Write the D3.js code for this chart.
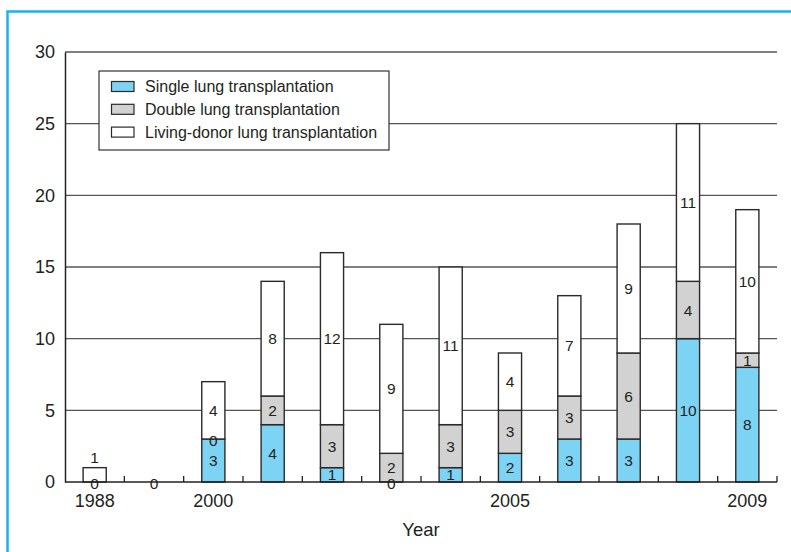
<!DOCTYPE html>
<html><head><meta charset="utf-8">
<script src="https://cdn.jsdelivr.net/npm/d3@7"></script>
<style>body{margin:0;background:#fff;} text{font-family:"Liberation Sans",Arial,Helvetica,sans-serif;fill:#231f20;}</style>
</head><body>
<svg id="chart" width="791" height="552"></svg>
<script>
const categories = ["1988","1989-1999","2000","2001","2002","2003","2004","2005","2006","2007","2008","2009"];
const single = [0,0,3,4,1,0,1,2,3,3,10,8];
const double = [0,0,0,2,3,2,3,3,3,6,4,1];
const living = [1,0,4,8,12,9,11,4,7,9,11,10];
const seriesNames = ["Single lung transplantation","Double lung transplantation","Living-donor lung transplantation"];
const tickLabels = ["1988","2000","2005","2009"];
const yTicks = [0,5,10,15,20,25,30];

const colors = ["#7dd3f4","#d2d2d2","#ffffff"];
const svg = d3.select("#chart");
const W=791,H=552;
const m={left:65,right:777,top:52,bottom:482};

// outer frame
svg.append("rect").attr("x",7.5).attr("y",11.5).attr("width",W+20).attr("height",H+20)
  .attr("fill","none").attr("stroke","#1ab2ea").attr("stroke-width",2.5);

const x = d3.scaleBand().domain(categories).range([m.left,m.right]).paddingInner(0.61).paddingOuter(0.305);
const xb = d3.scaleBand().domain(categories).range([m.left,m.right]);
const y = d3.scaleLinear().domain([0,30]).range([m.bottom,m.top]);

// gridlines
svg.append("g").selectAll("line").data(yTicks.filter(d=>d>0)).join("line")
  .attr("x1",m.left).attr("x2",m.right).attr("y1",d=>y(d)).attr("y2",d=>y(d))
  .attr("stroke","#555").attr("stroke-width",1.3);

// y axis
const yAxis = svg.append("g").attr("transform",`translate(${m.left},0)`)
  .call(d3.axisLeft(y).tickValues(yTicks).tickSize(0).tickPadding(10));
yAxis.select(".domain").attr("stroke","#222").attr("stroke-width",1.5);
yAxis.selectAll("text").attr("font-size","18px").style("font-family","Liberation Sans, Arial, sans-serif").attr("fill","#231f20");

// stacked data
const table = categories.map((c,i)=>({cat:c,single:single[i],double:double[i],living:living[i]}));
const keys=["single","double","living"];
const stack = d3.stack().keys(keys)(table);

const gBars = svg.append("g");
stack.forEach((layer,k)=>{
  gBars.selectAll(null).data(layer.filter(d=>d[1]-d[0]>0)).join("rect")
    .attr("x",d=>x(d.data.cat)).attr("width",x.bandwidth())
    .attr("y",d=>y(d[1])).attr("height",d=>y(d[0])-y(d[1]))
    .attr("fill",colors[k]).attr("stroke","#2a2a2a").attr("stroke-width",1.4);
});

// x axis
const xAxisG = svg.append("g").attr("transform",`translate(0,${m.bottom})`);
xAxisG.append("line").attr("x1",m.left).attr("x2",m.right).attr("stroke","#222").attr("stroke-width",1.5);
const bounds = categories.map(c=>xb(c)+xb.bandwidth());
xAxisG.selectAll(".tk").data(bounds).join("line").attr("class","tk")
  .attr("x1",d=>d).attr("x2",d=>d).attr("y1",0).attr("y2",-6).attr("stroke","#222").attr("stroke-width",1.3);
xAxisG.selectAll(".tl").data(tickLabels).join("text").attr("class","tl")
  .attr("x",d=>xb(d)+xb.bandwidth()/2).attr("y",25).attr("text-anchor","middle").attr("font-size","18px").text(d=>d);

// bar labels
const labels=[];
table.forEach((row,i)=>{
  const cx = x(row.cat)+x.bandwidth()/2;
  const placed=new Set();
  let base=0;
  keys.forEach((k,ki)=>{
    const v=row[k];
    let cy=y(base+v/2);
    const key=Math.round(cy);
    if(v===0){ if(!placed.has(key)){placed.add(key);labels.push({x:cx,y:cy+1,t:"0"});} }
    else {
      if(base===0 && y(0)-y(v)<16 && placed.has(Math.round(y(0)))) cy=y(v)-10;
      labels.push({x:cx,y:cy,t:String(v)});
    }
    base+=v;
  });
});
svg.append("g").selectAll("text").data(labels).join("text")
  .attr("x",d=>d.x).attr("y",d=>d.y).attr("dy","0.36em").attr("text-anchor","middle")
  .attr("font-size","15.5px").text(d=>d.t);

// axis title
svg.append("text").attr("x",(m.left+m.right)/2).attr("y",536).attr("text-anchor","middle").attr("font-size","18.5px").text("Year");

// legend
const lg = svg.append("g");
lg.append("rect").attr("x",99).attr("y",71).attr("width",290).attr("height",79).attr("fill","#fff").attr("stroke","#333").attr("stroke-width",1.2);
seriesNames.forEach((n,i)=>{
  const yy=86.5+i*22.8;
  lg.append("rect").attr("x",111.5).attr("y",yy-5).attr("width",22.5).attr("height",10).attr("fill",colors[i]).attr("stroke","#2a2a2a").attr("stroke-width",1.2);
  lg.append("text").attr("x",145).attr("y",yy).attr("dy","0.36em").attr("font-size","16px").text(n);
});
</script>
</body></html>
